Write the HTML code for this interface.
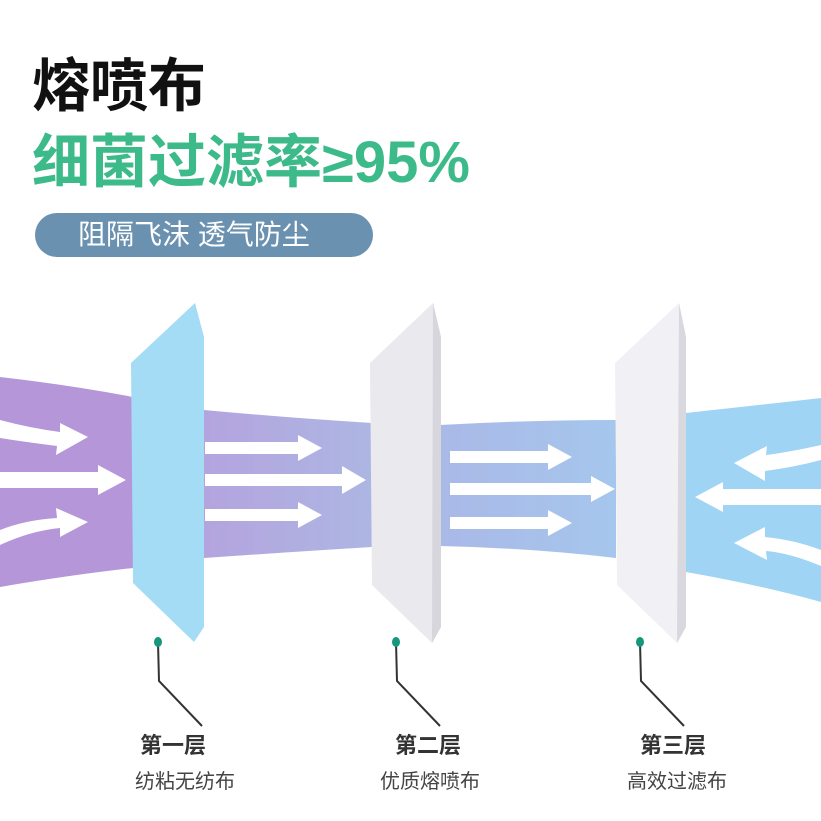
<!DOCTYPE html>
<html><head><meta charset="utf-8"><style>
body{margin:0;width:821px;height:821px;background:#fff;overflow:hidden;position:relative;font-family:"Liberation Sans","Noto Sans CJK SC",sans-serif}
.t{position:absolute;white-space:nowrap}
</style></head><body>
<div class="t" style="left:32px;top:52px;font-size:58px;font-weight:bold;color:#111;line-height:70px">熔喷布</div>
<div class="t" style="left:32px;top:128px;font-size:58px;font-weight:bold;color:#3dba8a;line-height:70px">细菌过滤率≥95%</div>
<div class="t" style="left:35px;top:213px;width:338px;height:44px;border-radius:22px;background:#6b91b0"></div>
<div class="t" style="left:78px;top:214px;font-size:28px;color:#fff;line-height:42px">阻隔飞沫 透气防尘</div>
<svg width="821" height="821" style="position:absolute;left:0;top:0">
<defs>
<linearGradient id="g2" x1="0" x2="1"><stop offset="0" stop-color="#b4a4de"/><stop offset="1" stop-color="#adb6e3"/></linearGradient>
<linearGradient id="g3" x1="0" x2="1"><stop offset="0" stop-color="#aab9e7"/><stop offset="1" stop-color="#a5c6ed"/></linearGradient>
</defs>
<path d="M0,377 Q70,385 133,397 L133,568 Q70,575 0,587 Z" fill="#b496d9"/>
<path d="M204,410 Q290,418 372,423 L372,547 Q290,552 204,558 Z" fill="url(#g2)"/>
<path d="M440,425 Q530,420 616,420 L616,558 Q530,548 440,546 Z" fill="url(#g3)"/>
<path d="M686,413 Q760,405 821,398 L821,602 Q760,585 686,572 Z" fill="#9fd4f4"/>
<g fill="#fff">
<path d="M0,420 Q30,428 60,432 L60,423 L88,437 L56,455 L57,446 Q25,442 0,438Z"/>
<path d="M0,472 L98,472 L98,465 L126,480 L98,495 L98,488 L0,488Z"/>
<path d="M0,530 Q25,520 57,518 L56,508 L88,522 L60,537 L60,528 Q30,531 0,545Z"/>
<path d="M205,442 L298,442 L298,435 L322,448 L298,461 L298,454 L205,454Z"/>
<path d="M205,474 L342,474 L342,466 L366,480 L342,494 L342,486 L205,486Z"/>
<path d="M205,509 L298,509 L298,502 L322,515 L298,528 L298,521 L205,521Z"/>
<path d="M450,451 L548,451 L548,444 L572,457 L548,470 L548,463 L450,463Z"/>
<path d="M450,483 L591,483 L591,476 L615,489 L591,502 L591,495 L450,495Z"/>
<path d="M450,517 L548,517 L548,510 L572,523 L548,536 L548,529 L450,529Z"/>
<path d="M821,445 Q790,452 766,455 L767,446 L734,463 L765,481 L765,471 Q795,467 821,460Z"/>
<path d="M821,489 L723,489 L723,482 L695,497 L723,512 L723,505 L821,505Z"/>
<path d="M821,550 Q795,540 765,537 L765,527 L734,543 L767,560 L766,551 Q790,553 821,566Z"/>
</g>
<polygon points="131,363 195,303 204,337 204,627 194,642 133,583" fill="#a4dcf5"/>
<polygon points="370,363 433,303 441,337 441,627 432,643 372,585" fill="#e9e9ee"/>
<polygon points="433,303 441,337 441,627 432,643" fill="#d6d6dc"/>
<polygon points="615,363 679,303 686,337 686,627 677,643 617,585" fill="#f1f1f5"/>
<polygon points="679,303 686,337 686,627 677,643" fill="#d8d8de"/>
<g stroke="#333" stroke-width="2" fill="none">
<path d="M158,642 L159,681 L202,726"/>
<path d="M396,642 L397,681 L440,726"/>
<path d="M640,642 L641,681 L684,726"/>
</g>
<g fill="#14977a"><ellipse cx="158" cy="642" rx="4" ry="5"/><ellipse cx="396" cy="642" rx="4" ry="5"/><ellipse cx="640" cy="642" rx="4" ry="5"/></g>
</svg>
<div class="t" style="left:140px;top:732px;font-size:22px;font-weight:bold;color:#333;line-height:28px">第一层</div>
<div class="t" style="left:135px;top:768px;font-size:20px;color:#444;line-height:28px">纺粘无纺布</div>
<div class="t" style="left:395px;top:732px;font-size:22px;font-weight:bold;color:#333;line-height:28px">第二层</div>
<div class="t" style="left:380px;top:768px;font-size:20px;color:#444;line-height:28px">优质熔喷布</div>
<div class="t" style="left:640px;top:732px;font-size:22px;font-weight:bold;color:#333;line-height:28px">第三层</div>
<div class="t" style="left:627px;top:768px;font-size:20px;color:#444;line-height:28px">高效过滤布</div>
</body></html>
